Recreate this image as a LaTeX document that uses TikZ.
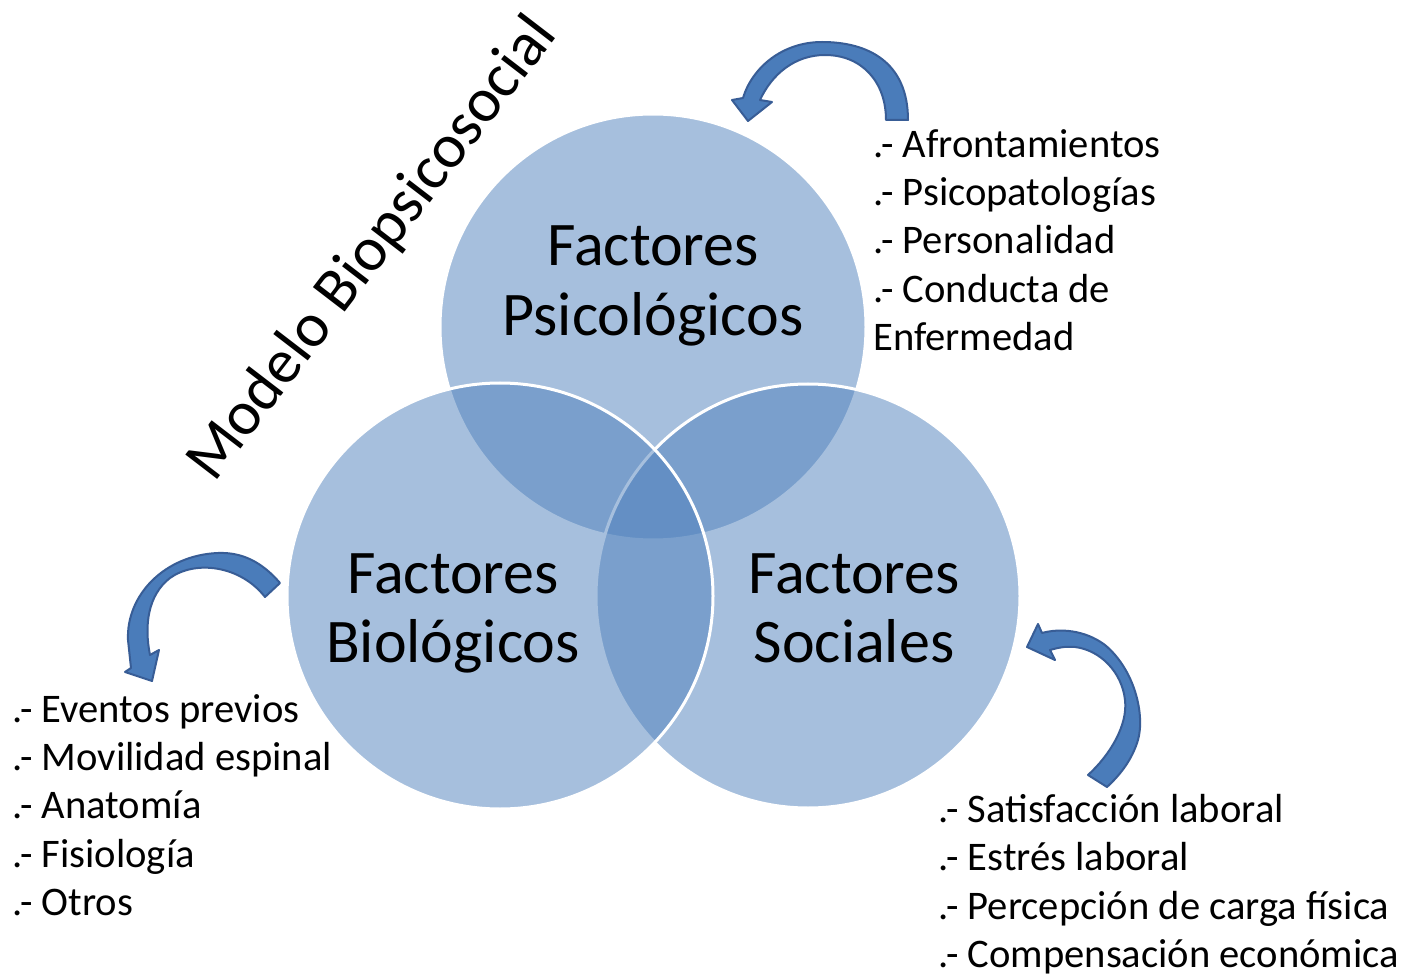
\documentclass[tikz,border=0pt]{standalone}
\usepackage{fontspec}
\setmainfont{Carlito}
\definecolor{venn}{RGB}{79,129,189}
\definecolor{arrowfill}{RGB}{74,124,186}
\definecolor{arrowline}{RGB}{56,93,150}
\tikzset{
  venncircle/.style={fill=venn, fill opacity=0.5, draw=white, draw opacity=1, line width=3pt},
  bigtext/.style={font=\fontsize{62}{70}\selectfont, align=center, inner sep=0pt},
  listline/.style={font=\fontsize{40.6}{48}\selectfont, anchor=base west, inner sep=0pt},
  blockarrow/.style={fill=arrowfill, draw=arrowline, line width=2pt, line join=round},
  titletext/.style={font=\fontsize{62.5}{70}\selectfont, anchor=base west, inner sep=0pt, rotate=52.5}
}
\begin{document}
\begin{tikzpicture}[x=1pt, y=-1pt]
\useasboundingbox[fill=white] (0,0) rectangle (1401,976);

% circles (order: top, bottom-right, bottom-left)
\path[venncircle] (653,327) circle[radius=213];
\path[venncircle] (808,596) circle[radius=212];
\path[venncircle] (500,596) circle[radius=213];

% circle labels
\node[bigtext, anchor=base] (psy1) at (653,266) {Factores};
\node[bigtext, anchor=base] (psy2) at (653,336) {Psicológicos};
\node[bigtext, anchor=base] (bio1) at (453,593) {Factores};
\node[bigtext, anchor=base] (bio2) at (453,662) {Biológicos};
\node[bigtext, anchor=base] (soc1) at (854,593) {Factores};
\node[bigtext, anchor=base] (soc2) at (854,662) {Sociales};

% title
\node[titletext] (title) at (214,484) {Modelo Biopsicosocial};

% top arrow
\path[blockarrow] (908,120) .. controls (908,62) and (868,42) .. (822,42)
  .. controls (782,42) and (752,68) .. (743,98) -- (732,100) -- (748,121) -- (772,102) -- (760,100)
  .. controls (772,74) and (795,55) .. (825,55)
  .. controls (862,55) and (886,82) .. (886,120) -- cycle;

% left arrow
\path[blockarrow] (280,583) .. controls (262,562) and (242,552) .. (218,553)
  .. controls (165,555) and (126,595) .. (128,640) -- (131,668) -- (125,672) -- (152,681) -- (159,650) -- (150,655)
  .. controls (144,625) and (148,595) .. (170,578)
  .. controls (195,560) and (240,565) .. (265,597) -- cycle;

% right arrow
\path[blockarrow] (1042,633) .. controls (1060,628) and (1085,630) .. (1105,645)
  .. controls (1135,670) and (1145,715) .. (1138,740)
  .. controls (1132,760) and (1120,775) .. (1107,787) -- (1088,775)
  .. controls (1110,755) and (1128,725) .. (1125,700)
  .. controls (1122,672) and (1100,650) .. (1075,647)
  .. controls (1065,646) and (1057,648) .. (1050,650) -- (1055,660) -- (1027,647) -- (1038,624) -- cycle;

% lists
\node[listline] (p1) at (873,158) {.- Afrontamientos};
\node[listline] (p2) at (873,206) {.- Psicopatologías};
\node[listline] (p3) at (873,254) {.- Personalidad};
\node[listline] (p4) at (873,303) {.- Conducta de};
\node[listline] (p5) at (873,351) {Enfermedad};

\node[listline] (b1) at (12,722) {.- Eventos previos};
\node[listline] (b2) at (12,770) {.- Movilidad espinal};
\node[listline] (b3) at (12,818) {.- Anatomía};
\node[listline] (b4) at (12,867) {.- Fisiología};
\node[listline] (b5) at (12,915) {.- Otros};

\node[listline] (s1) at (938,822) {.- Satisfacción laboral};
\node[listline] (s2) at (938,870) {.- Estrés laboral};
\node[listline] (s3) at (938,919) {.- Percepción de carga física};
\node[listline] (s4) at (938,967) {.- Compensación económica};
\end{tikzpicture}
\end{document}
